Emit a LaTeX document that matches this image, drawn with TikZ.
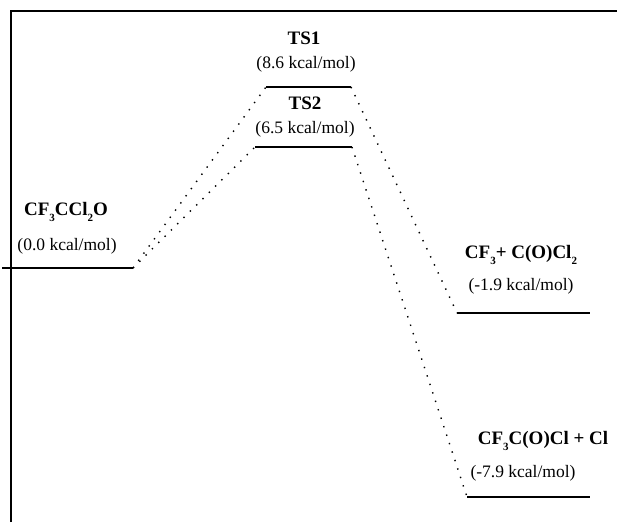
\documentclass[tikz,border=0pt]{standalone}
\usepackage{fontspec}
\setmainfont{Liberation Serif}
\newcommand{\lowsub}[1]{\raisebox{-0.6ex}{\fontsize{11}{12}\selectfont #1}}
\begin{document}
\begin{tikzpicture}[x=1pt,y=-1pt,
  level/.style={line width=2.6pt},
  frame/.style={line width=1.6pt},
  conn/.style={line width=1.4pt, dash pattern=on 1.4pt off 7.5pt},
  lbl/.style={font=\fontsize{19}{21}\selectfont\bfseries, inner sep=0pt},
  nrg/.style={font=\fontsize{17.5}{20}\selectfont, inner sep=0pt}]
\useasboundingbox (0,0) rectangle (617,522);
% frame
\draw[frame] (11,522) -- (11,11) -- (617,11);
\draw[frame] (2,268) -- (11,268);
% levels
\coordinate (r1L) at (11,268);  \coordinate (r1R) at (133,268);
\coordinate (t1L) at (266,87);  \coordinate (t1R) at (351,87);
\coordinate (t2L) at (255,147); \coordinate (t2R) at (352,147);
\coordinate (p1L) at (457,313); \coordinate (p1R) at (590,313);
\coordinate (p2L) at (467,497); \coordinate (p2R) at (590,497);
\draw[level] (r1L) -- (r1R);
\draw[level] (t1L) -- (t1R);
\draw[level] (t2L) -- (t2R);
\draw[level] (p1L) -- (p1R);
\draw[level] (p2L) -- (p2R);
% connectors
\draw[conn] (r1R) -- (t1L);
\draw[conn] (r1R) -- (t2L);
\draw[conn] (t1R) -- (p1L);
\draw[conn] (t2R) -- (p2L);
% labels
\node[lbl] (ts1) at (304,38) {TS1};
\node[nrg] (ts1e) at (306,64) {(8.6 kcal/mol)};
\node[lbl] (ts2) at (305,103) {TS2};
\node[nrg] (ts2e) at (305,129) {(6.5 kcal/mol)};
\node[lbl] (r1) at (66,212) {CF\lowsub{3}CCl\lowsub{2}O};
\node[nrg] (r1e) at (67,246) {(0.0 kcal/mol)};
\node[lbl] (p1) at (521,255) {CF\lowsub{3}+ C(O)Cl\lowsub{2}};
\node[nrg] (p1e) at (521,286) {(-1.9 kcal/mol)};
\node[lbl] (p2) at (543,441) {CF\lowsub{3}C(O)Cl + Cl};
\node[nrg] (p2e) at (523,473) {(-7.9 kcal/mol)};
\end{tikzpicture}
\end{document}
